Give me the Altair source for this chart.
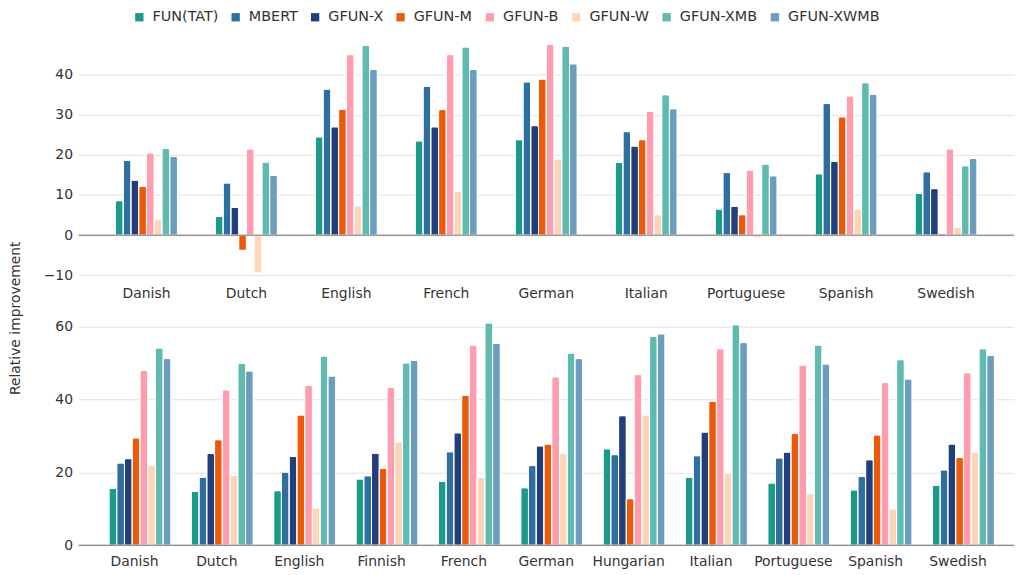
import altair as alt
import pandas as pd

models = ["FUN(TAT)", "MBERT", "GFUN-X", "GFUN-M", "GFUN-B", "GFUN-W", "GFUN-XMB", "GFUN-XWMB"]
colors = ["#1b9a8a", "#2e6f9f", "#213f7a", "#ea5a08", "#ff9cae", "#ffd5b8", "#5fbab0", "#6b9dbf"]

top_langs = ["Danish", "Dutch", "English", "French", "German", "Italian", "Portuguese", "Spanish", "Swedish"]
top_fun = [8.6, 4.7, 24.5, 23.5, 23.8, 18.1, 6.5, 15.3, 10.4]
top_mbert = [18.6, 13.0, 36.4, 37.1, 38.2, 25.8, 15.6, 32.8, 15.8]
top_gx = [13.7, 6.9, 27.0, 27.0, 27.3, 22.2, 7.2, 18.4, 11.6]
top_gm = [12.2, -3.8, 31.4, 31.3, 38.9, 23.8, 5.1, 29.5, 0.4]
top_gb = [20.5, 21.5, 45.0, 45.0, 47.6, 30.9, 16.2, 34.7, 21.5]
top_gw = [4.0, -9.4, 7.3, 10.9, 19.0, 5.1, -0.7, 6.5, 1.9]
top_gxmb = [21.6, 18.2, 47.3, 46.9, 47.1, 35.0, 17.7, 38.0, 17.3]
top_gxwmb = [19.6, 14.9, 41.3, 41.3, 42.7, 31.5, 14.8, 35.1, 19.1]

bot_langs = ["Danish", "Dutch", "English", "Finnish", "French", "German", "Hungarian", "Italian", "Portuguese", "Spanish", "Swedish"]
bot_fun = [15.6, 14.8, 15.0, 18.2, 17.6, 15.8, 26.5, 18.7, 17.1, 15.2, 16.5]
bot_mbert = [22.6, 18.7, 20.1, 19.1, 25.7, 21.9, 24.9, 24.6, 24.0, 18.9, 20.7]
bot_gx = [23.8, 25.2, 24.4, 25.3, 30.9, 27.3, 35.6, 31.1, 25.6, 23.5, 27.8]
bot_gm = [29.5, 29.0, 35.8, 21.1, 41.2, 27.8, 12.8, 39.6, 30.7, 30.3, 24.1]
bot_gb = [48.1, 42.7, 43.9, 43.4, 55.0, 46.3, 46.9, 54.0, 49.5, 44.7, 47.4]
bot_gw = [21.9, 19.2, 10.3, 28.4, 18.7, 25.2, 35.8, 19.8, 14.3, 10.0, 25.6]
bot_gxmb = [54.2, 50.0, 52.0, 50.1, 61.1, 52.8, 57.4, 60.6, 55.0, 51.0, 54.0]
bot_gxwmb = [51.3, 47.9, 46.5, 50.8, 55.5, 51.3, 58.1, 55.7, 49.8, 45.7, 52.2]


def to_long(langs, series):
    rows = []
    for m, vals in zip(models, series):
        for lang, v in zip(langs, vals):
            rows.append({"lang": lang, "model": m, "value": v})
    return pd.DataFrame(rows)


top_df = to_long(top_langs, [top_fun, top_mbert, top_gx, top_gm, top_gb, top_gw, top_gxmb, top_gxwmb])
bot_df = to_long(bot_langs, [bot_fun, bot_mbert, bot_gx, bot_gm, bot_gb, bot_gw, bot_gxmb, bot_gxwmb])

FONT = "DejaVu Sans"


def panel(df, langs, domain, height, ticks, with_title):
    yaxis = dict(values=ticks, domain=False, ticks=False, labelPadding=6,
                 labelFontSize=14, labelColor="#333333", gridColor="#e2e2e2",
                 minExtent=40)
    if with_title:
        yaxis.update(title="Relative improvement", titleFontSize=14, titleFontWeight="normal",
                     titleColor="#333333", titleX=-56, titleY=0, titleAlign="center",
                     titleAngle=270, titleBaseline="bottom")
    else:
        yaxis.update(title=None)
    bars = alt.Chart(df).mark_bar(cornerRadiusEnd=2, stroke="white", strokeWidth=1).encode(
        x=alt.X("lang:N", sort=langs,
                scale=alt.Scale(paddingInner=0.38, paddingOuter=0.37),
                axis=alt.Axis(title=None, labelAngle=0, domain=False, ticks=False,
                              labelPadding=9, labelFontSize=14, labelColor="#333333")),
        xOffset=alt.XOffset("model:N", sort=models, scale=alt.Scale(paddingInner=0.0)),
        y=alt.Y("value:Q", scale=alt.Scale(domain=domain, nice=False, zero=False),
                axis=alt.Axis(**yaxis)),
        color=alt.Color("model:N", sort=models,
                        scale=alt.Scale(domain=models, range=colors),
                        legend=alt.Legend(title=None, orient="none", direction="horizontal",
                                          legendX=54, legendY=-30, padding=0,
                                          symbolType="square", symbolSize=70,
                                          labelFontSize=14.5, labelColor="#333333",
                                          labelOffset=6, columnPadding=10,
                                          symbolStrokeWidth=0)),
    )
    rule = alt.Chart(pd.DataFrame({"z": [0]})).mark_rule(color="#6b6b6b", strokeWidth=1).encode(
        y=alt.Y("z:Q")
    )
    return alt.layer(bars, rule).properties(width=942, height=height)


top = panel(top_df, top_langs, [-10.7, 48.7], 240, [-10, 0, 10, 20, 30, 40], False)
bot = panel(bot_df, bot_langs, [0, 62.5], 229, [0, 20, 40, 60], True)

chart = alt.vconcat(top, bot, spacing=40, bounds="flush").properties(padding=0).configure(
    font=FONT
).configure_view(stroke=None).resolve_scale(color="shared")

chart.save("out.html", embed_options={"renderer": "svg", "actions": False})
